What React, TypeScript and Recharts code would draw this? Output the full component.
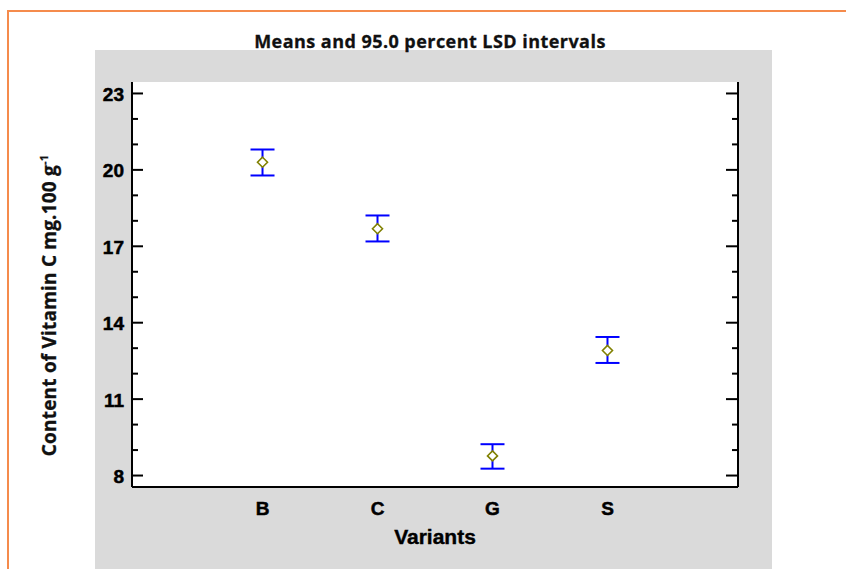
import React from 'react';
import { ScatterChart, Scatter, XAxis, YAxis, ErrorBar, CartesianGrid, Label } from 'recharts';

const variants = ['B', 'C', 'G', 'S'];
const means = [20.3, 17.69, 8.77, 12.91];
const lowerLimits = [19.78, 17.19, 8.27, 12.42];
const upperLimits = [20.8, 18.21, 9.23, 13.44];
const majorTicks = [8, 11, 14, 17, 20, 23];
const minorTicks = [8, 9, 10, 11, 12, 13, 14, 15, 16, 17, 18, 19, 20, 21, 22, 23];

const data = variants.map((v, i) => ({
  x: i + 1,
  y: means[i],
  err: [means[i] - lowerLimits[i], upperLimits[i] - means[i]],
}));

const yDomain = [7.55, 23.45];
const xDomain = [-0.135, 5.135];

const tickFamily = 'Liberation Sans, Arial, sans-serif';
const titleFont = 'Open Sans, sans-serif';

const LeftTick = (props: any) => {
  const { x, y, payload } = props;
  const major = majorTicks.includes(payload.value);
  return (
    <g>
      <line x1={x} x2={x + (major ? 11 : 6)} y1={y} y2={y} stroke="#000" strokeWidth={2} />
      {major && (
        <text
          x={x - 8}
          y={y}
          dy={7.5}
          textAnchor="end"
          fill="#000"
          stroke="#000"
          strokeWidth={0.5}
          style={{ fontFamily: tickFamily, fontWeight: 700, fontSize: '19px' }}
        >
          {payload.value}
        </text>
      )}
    </g>
  );
};

const RightTick = (props: any) => {
  const { x, y, payload } = props;
  const major = majorTicks.includes(payload.value);
  return <line x1={x - (major ? 12 : 6)} x2={x} y1={y} y2={y} stroke="#000" strokeWidth={2} />;
};

const BottomTick = (props: any) => {
  const { x, y, payload } = props;
  return (
    <text
      x={x}
      y={y}
      dy={13}
      textAnchor="middle"
      fill="#000"
      stroke="#000"
      strokeWidth={0.5}
      style={{ fontFamily: tickFamily, fontWeight: 700, fontSize: '19px' }}
    >
      {variants[payload.value - 1]}
    </text>
  );
};

const Diamond = (props: any) => {
  const { cx, cy } = props;
  const r = 5;
  return (
    <polygon
      points={`${cx},${cy - r} ${cx + r},${cy} ${cx},${cy + r} ${cx - r},${cy}`}
      fill="#fff"
      stroke="#808000"
      strokeWidth={1.6}
    />
  );
};

const YTitle = (props: any) => {
  const { viewBox } = props;
  const x = viewBox.x + 56;
  const y = viewBox.y + viewBox.height / 2 + 21;
  return (
    <text
      x={x}
      y={y}
      transform={`rotate(-90 ${x} ${y})`}
      textAnchor="middle"
      fill="#111"
      stroke="#111"
      strokeWidth={0.3}
      fontFamily={titleFont}
      fontWeight={700}
      fontSize={19}
      letterSpacing={0.2}
    >
      Content of Vitamin C mg.100 g
      <tspan fontSize={11} dy={-8}>-1</tspan>
    </text>
  );
};

const XTitle = (props: any) => {
  const { viewBox } = props;
  return (
    <text
      x={viewBox.x + viewBox.width / 2}
      y={viewBox.y + 57}
      textAnchor="middle"
      fill="#000"
      stroke="#000"
      strokeWidth={0.4}
      fontFamily={tickFamily}
      fontWeight={700}
      fontSize={21}
    >
      Variants
    </text>
  );
};

export default function App() {
  return (
    <div style={{ position: 'absolute', left: 0, top: 0, width: 846, height: 569, background: '#fff', overflow: 'hidden' }}>
      <div
        style={{
          position: 'absolute',
          left: 7,
          top: 10,
          width: 900,
          height: 600,
          borderTop: '2px solid #F58B4C',
          borderLeft: '2px solid #F58B4C',
        }}
      />
      <div style={{ position: 'absolute', left: 95, top: 50, width: 677, height: 519, background: '#DADADA' }} />
      <svg style={{ position: 'absolute', left: 0, top: 0 }} width={846} height={569}>
        <text
          x={430}
          y={48}
          textAnchor="middle"
          fill="#111"
          stroke="#111"
          strokeWidth={0.3}
          fontFamily={titleFont}
          fontWeight={700}
          fontSize={18}
          letterSpacing={0.45}
        >
          Means and 95.0 percent LSD intervals
        </text>
      </svg>
      <div style={{ position: 'absolute', left: 0, top: 0 }}>
        <ScatterChart width={846} height={569} margin={{ top: 82, right: 74, bottom: 0, left: 0 }}>
          <CartesianGrid fill="#fff" stroke="none" horizontal={false} vertical={false} xAxisId="bottom" yAxisId="left" />
          <XAxis
            xAxisId="bottom"
            type="number"
            dataKey="x"
            domain={xDomain}
            allowDataOverflow
            ticks={[1, 2, 3, 4]}
            interval={0}
            height={82}
            tickLine={false}
            tickSize={0}
            tickMargin={15}
            axisLine={{ stroke: '#000', strokeWidth: 2 }}
            tick={<BottomTick />}
          >
            <Label content={<XTitle />} />
          </XAxis>
          <XAxis
            xAxisId="top"
            orientation="top"
            type="number"
            domain={xDomain}
            allowDataOverflow
            height={0}
            tick={false}
            tickLine={false}
            axisLine={{ stroke: '#000', strokeWidth: 2 }}
          />
          <YAxis
            yAxisId="left"
            type="number"
            dataKey="y"
            domain={yDomain}
            allowDataOverflow
            ticks={minorTicks}
            interval={0}
            width={132}
            tickSize={0}
            tickMargin={0}
            tickLine={false}
            tick={<LeftTick />}
            axisLine={{ stroke: '#000', strokeWidth: 2 }}
          >
            <Label content={<YTitle />} />
          </YAxis>
          <YAxis
            yAxisId="right"
            orientation="right"
            type="number"
            domain={yDomain}
            allowDataOverflow
            ticks={minorTicks}
            interval={0}
            width={34}
            tickSize={0}
            tickMargin={0}
            tickLine={false}
            tick={<RightTick />}
            axisLine={{ stroke: '#000', strokeWidth: 2 }}
          />
          <Scatter
            data={data}
            xAxisId="bottom"
            yAxisId="left"
            shape={<Diamond />}
            isAnimationActive={false}
          >
            <ErrorBar dataKey="err" direction="y" width={12} stroke="#0000FF" strokeWidth={2} isAnimationActive={false} />
          </Scatter>
        </ScatterChart>
      </div>
    </div>
  );
}
